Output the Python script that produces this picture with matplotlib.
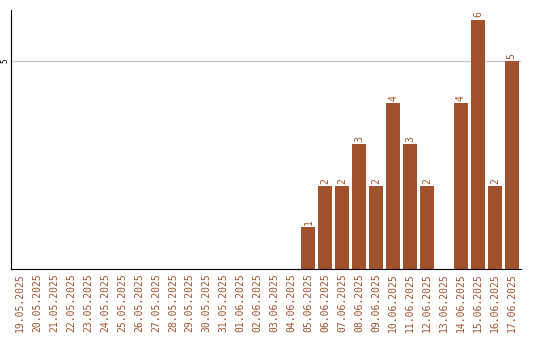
import matplotlib.pyplot as plt

dates = ['19.05.2025', '20.05.2025', '21.05.2025', '22.05.2025', '23.05.2025',
         '24.05.2025', '25.05.2025', '26.05.2025', '27.05.2025', '28.05.2025',
         '29.05.2025', '30.05.2025', '31.05.2025', '01.06.2025', '02.06.2025',
         '03.06.2025', '04.06.2025', '05.06.2025', '06.06.2025', '07.06.2025',
         '08.06.2025', '09.06.2025', '10.06.2025', '11.06.2025', '12.06.2025',
         '13.06.2025', '14.06.2025', '15.06.2025', '16.06.2025', '17.06.2025']
counts = [0, 0, 0, 0, 0, 0, 0, 0, 0, 0, 0, 0, 0, 0, 0, 0, 0,
          1, 2, 2, 3, 2, 4, 3, 2, 0, 4, 6, 2, 5]

COLOR = '#A0522D'

fig = plt.figure(figsize=(5.4, 3.4), dpi=100)
ax = fig.add_axes([0.0204, 0.2088, 0.9446, 0.7618])

x = list(range(len(dates)))
ax.bar(x, counts, width=0.82, color=COLOR, zorder=2)
for xi, v in zip(x, counts):
    if v > 0:
        ax.text(xi, v + 0.05, str(v), rotation=90, ha='center', va='bottom',
                fontsize=7, color=COLOR, family='DejaVu Sans Mono')

ax.set_xlim(-0.55, len(dates) - 0.45)
ax.set_ylim(0, 6.23)
ax.set_xticks(x)
ax.set_xticklabels(dates, rotation=90, fontsize=7, color=COLOR, family='DejaVu Sans Mono')
ax.set_yticks([5])
ax.set_yticklabels(['5'], rotation=90, fontsize=5.5, va='center', family='DejaVu Sans Mono')
ax.tick_params(axis='x', length=0, pad=3)
ax.tick_params(axis='y', length=0, pad=1)
ax.grid(axis='y', color='#c8c8c8', linewidth=1, zorder=0)
ax.spines['top'].set_visible(False)
ax.spines['right'].set_visible(False)

fig.savefig('out.png', dpi=100)
